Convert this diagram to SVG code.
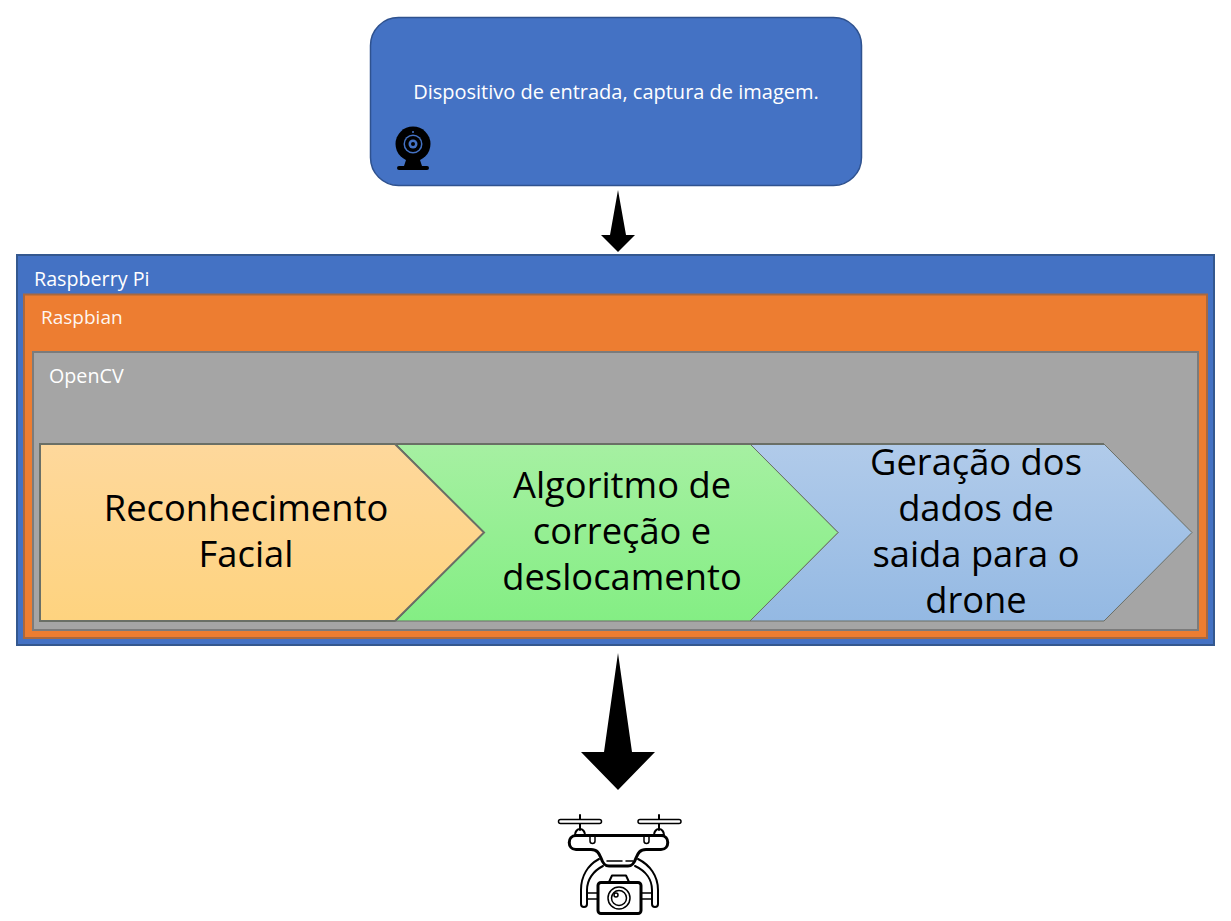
<svg xmlns="http://www.w3.org/2000/svg" width="1231" height="921" viewBox="0 0 1231 921">
<style>
text{font-family:"Open Sans","Noto Sans","Liberation Sans",sans-serif}
.w{fill:#fff;font-size:19.700px}
.b{fill:#000;font-size:36.300px;text-anchor:middle}
.chev{stroke:#6a6f66;stroke-width:1}
.ln{fill:none;stroke:#000;stroke-width:3;stroke-linecap:round;stroke-linejoin:round}
.thin{fill:none;stroke:#000;stroke-width:1.500;stroke-linecap:round}
</style>
<defs>
<linearGradient id="gy" x1="0" y1="0" x2="0" y2="1"><stop offset="0" stop-color="#fed89c"/><stop offset="1" stop-color="#fed37f"/></linearGradient>
<linearGradient id="gg" x1="0" y1="0" x2="0" y2="1"><stop offset="0" stop-color="#a6f0a2"/><stop offset="1" stop-color="#84ee84"/></linearGradient>
<linearGradient id="gb" x1="0" y1="0" x2="0" y2="1"><stop offset="0" stop-color="#b1cbea"/><stop offset="1" stop-color="#94b9e3"/></linearGradient>
</defs>
<g id="input-device">
<rect x="370.500" y="17.500" width="491" height="168" rx="28" fill="#4472c4" stroke="#2f528f" stroke-width="1.500"/>
<text class="w" x="616" y="99" text-anchor="middle" style="font-size:20px">Dispositivo de entrada, captura de imagem.</text>
<g id="webcam">
<circle cx="413" cy="144" r="17.500" fill="#000"/>
<circle cx="413" cy="144" r="9.500" fill="#4472c4"/>
<circle cx="413" cy="144" r="8" fill="#000"/>
<circle cx="413" cy="144" r="4.500" fill="#4472c4"/>
<circle cx="413" cy="144" r="2" fill="#000"/>
<circle cx="413" cy="132" r="1" fill="#4472c4"/>
<path d="M406 160h14l2 6h5a2 2 0 0 1 0 4h-28a2 2 0 0 1 0-4h5z" fill="#000"/>
</g>
</g>
<g id="raspberry-pi">
<rect x="17" y="255" width="1197" height="390" fill="#4472c4" stroke="#34588f" stroke-width="2"/>
<text class="w" x="34" y="286">Raspberry Pi</text>
</g>
<g id="raspbian">
<rect x="24" y="294.500" width="1183" height="343.500" fill="#ed7d31" stroke="#a9683f" stroke-width="2"/>
<text class="w" x="41" y="324" style="font-size:19px" fill-opacity=".95">Raspbian</text>
</g>
<g id="opencv">
<rect x="33" y="352" width="1165" height="278" fill="#a5a5a5" stroke="#7b7b7b" stroke-width="2"/>
<text class="w" x="49" y="383">OpenCV</text>
</g>
<g id="geracao">
<path class="chev" d="M750 444H1104L1192 532.500L1104 621H750L838 532.500Z" fill="url(#gb)"/>
<text class="b"><tspan x="976" y="475">Geração dos</tspan><tspan x="976" y="521">dados de</tspan><tspan x="976" y="567">saida para o</tspan><tspan x="976" y="613">drone</tspan></text>
</g>
<g id="algoritmo">
<path class="chev" d="M396 444H750L838 532.500L750 621H396L484 532.500Z" fill="url(#gg)"/>
<text class="b"><tspan x="622" y="498">Algoritmo de</tspan><tspan x="622" y="544">correção e</tspan><tspan x="622" y="590">deslocamento</tspan></text>
</g>
<g id="reconhecimento">
<path class="chev" style="stroke-width:2" d="M40 444H395L484 532.500L395 621H40Z" fill="url(#gy)"/>
<text class="b"><tspan x="246" y="521">Reconhecimento</tspan><tspan x="246" y="567">Facial</tspan></text>
<path d="M396 444H1104" fill="none" stroke="#6a6f66" stroke-width="2"/>
</g>
<g id="connectors">
<path d="M618 190L626 235H635L618 252L601 235H610Z" fill="#000"/>
<path d="M618 653L632 752H655L618 790L581 752H604Z" fill="#000"/>
</g>
<g id="drone">
<rect x="558.500" y="819.500" width="43" height="4" rx="2" class="thin"/>
<rect x="638" y="819.500" width="43" height="4" rx="2" class="thin"/>
<path class="thin" style="stroke-width:2" d="M580 815V819M659 815V819M580 824V830M659 824V830"/>
<path d="M575 835a5 6 0 0 1 10 0zM654 835a5 6 0 0 1 10 0z" class="ln" style="stroke-width:2"/>
<path class="ln" d="M576 835.500H661C670 835.500 670 849.500 661 849.500H646C640 849.500 638 853 636 858C634 864 632 866 628 866H609C605 866 603 864 601 858C599 853 597 849.500 591 849.500H576C567 849.500 567 835.500 576 835.500Z"/>
<path class="thin" d="M590 836V841a2.500 2.500 0 0 0 5 0V836M644 836V841a2.500 2.500 0 0 0 5 0V836M607 861H622M626 861H633"/>
<path class="thin" style="stroke-width:2" d="M599 859C588 865 581 876 581 890V904a3 3 0 0 0 6 0V890C587 880 593 871 603 866M638 859C650 865 658 876 658 890V904a3 3 0 0 1 -6 0V890C652 880 646 871 635 866"/>
<path class="ln" style="stroke-width:2" d="M609 882L612 875.500H626L629 882"/>
<path class="thin" d="M587 893H597M587 899H597M642 893H652M642 899H652"/>
<rect x="598" y="882.500" width="43" height="31" rx="3" fill="#fff" stroke="#000" stroke-width="3"/>
<circle cx="619" cy="898" r="11" class="thin"/>
<circle cx="619" cy="898" r="7.500" class="thin"/>
<circle cx="616" cy="895" r="2" class="thin"/>
</g>
</svg>
